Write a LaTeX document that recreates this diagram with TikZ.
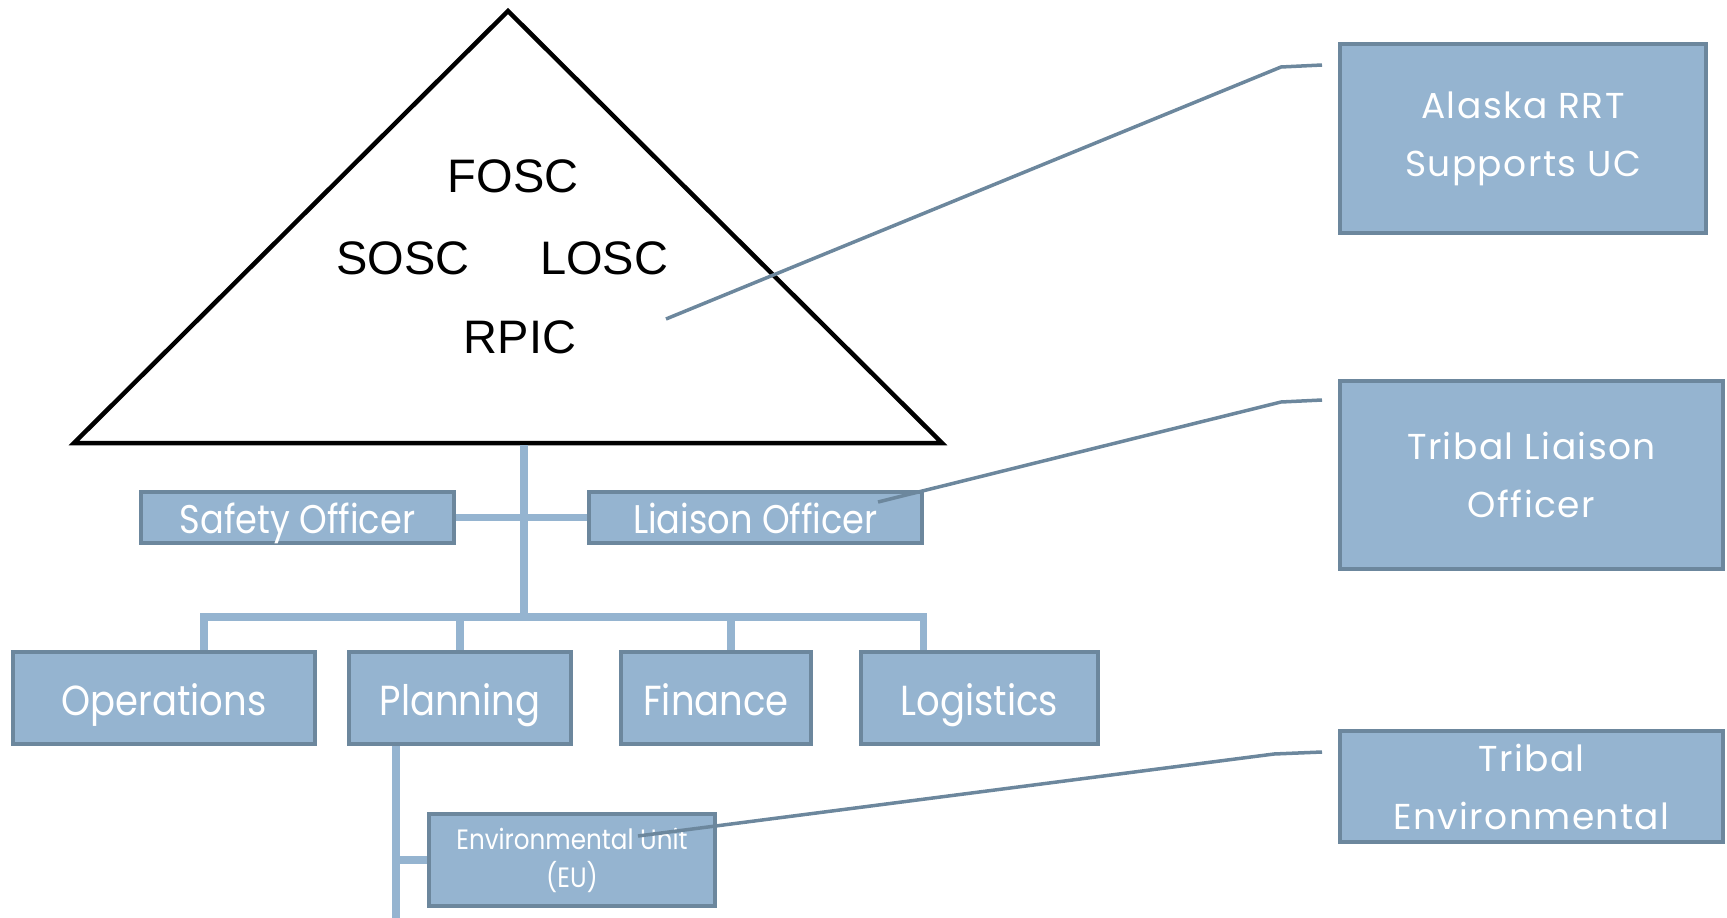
\documentclass[tikz,border=0pt]{standalone}
\usepackage{fontspec}
\setmainfont{Liberation Sans}
\newfontfamily\orgfont[FakeStretch=0.88]{Poppins}
\newfontfamily\rrtfont[LetterSpace=4]{Poppins}

\definecolor{boxblue}{HTML}{95B4D0}
\definecolor{edgeblue}{HTML}{6C879D}

\tikzset{
  boxbase/.style={draw=edgeblue, line width=4pt, fill=boxblue, text=white,
    inner sep=0pt, align=center},
  orgbox/.style={boxbase, text height=35pt, text depth=0pt,
    font=\orgfont\fontsize{42}{46}\selectfont},
  staffbox/.style={orgbox, text height=32pt, font=\orgfont\fontsize{40}{44}\selectfont},
  rrtbox/.style={boxbase, font=\rrtfont\fontsize{36}{58}\selectfont},
  link/.style={draw=boxblue, line width=7.5pt},
  callout/.style={draw=edgeblue, line width=3.5pt},
  ucname/.style={font=\fontsize{47}{50}\selectfont},
}

\begin{document}
\begin{tikzpicture}[x=1pt, y=-1pt]
\useasboundingbox (0,0) rectangle (1727,918);

% unified command triangle
\coordinate (apex) at (508,11);
\coordinate (bl) at (74,443);
\coordinate (br) at (942,443);
\draw [line width=4.5pt, miter limit=20] (apex) -- (br) -- (bl) -- cycle;
\node [ucname] (fosc) at (513,176) {FOSC};
\node [ucname] (sosc) at (403,258) {SOSC};
\node [ucname] (losc) at (604,258) {LOSC};
\node [ucname] (rpic) at (520,337) {RPIC};

% command staff and sections
\node [staffbox, minimum width=313pt, minimum height=51pt] (safety) at (297.5,517.5) {Safety Officer};
\node [staffbox, minimum width=333pt, minimum height=51pt] (liaison) at (755.5,517.5) {Liaison Officer};
\node [orgbox, minimum width=302pt, minimum height=92pt] (ops) at (164,698) {Operations};
\node [orgbox, minimum width=222pt, minimum height=92pt] (plan) at (460,698) {Planning};
\node [orgbox, minimum width=190pt, minimum height=92pt] (fin) at (716,698) {Finance};
\node [orgbox, minimum width=237pt, minimum height=92pt] (log) at (979.5,698) {Logistics};
\node [boxbase, minimum width=286pt, minimum height=92pt,
  font=\orgfont\fontsize{28}{38}\selectfont] (eu) at (572,860) {Environmental Unit\\(EU)};

% RRT boxes
\node [rrtbox, minimum width=366pt, minimum height=189pt] (alaska) at (1523,138.5) {Alaska RRT\\Supports UC};
\node [rrtbox, minimum width=383pt, minimum height=188pt] (tliaison) at (1531.5,475) {Tribal Liaison\\Officer};
\node [rrtbox, minimum width=383pt, minimum height=111pt] (tenv) at (1531.5,786.5) {Tribal\\Environmental};

% org chart links
\coordinate (tribase) at (524,445);
\coordinate (bar) at (524,617);
\coordinate (opsdrop) at ([xshift=40pt]ops.north);
\coordinate (findrop) at ([xshift=15pt]fin.north);
\coordinate (logdrop) at ([xshift=-56pt]log.north);
\coordinate (plandrop) at ([xshift=-64pt]plan.south);
\coordinate (planend) at (396,918);
\draw [link] (tribase) -- (bar);
\draw [link] (safety.east) -- (liaison.west);
\draw [link] (opsdrop) |- (bar) -| (logdrop);
\draw [link] (plan.north) -- (plan.north |- bar);
\draw [link] (findrop) -- (findrop |- bar);
\draw [link] (plandrop) -- (planend);
\draw [link] (eu.west) -- (eu.west -| planend);

% callouts to the RRT
\coordinate (ucpt) at (666,319);
\coordinate (ucknee) at (1281,67);
\coordinate (lopt) at (878,502);
\coordinate (loknee) at (1281,402);
\coordinate (eupt) at (638,836);
\coordinate (euknee) at (1274,754);
\draw [callout] (ucpt) -- (ucknee) -- ([shift={(-16pt,-23pt)}]alaska.north west);
\draw [callout] (lopt) -- (loknee) -- ([shift={(-16pt,-21pt)}]tliaison.north west);
\draw [callout] (eupt) -- (euknee) -- ([shift={(-16pt,-23pt)}]tenv.north west);
\end{tikzpicture}
\end{document}
